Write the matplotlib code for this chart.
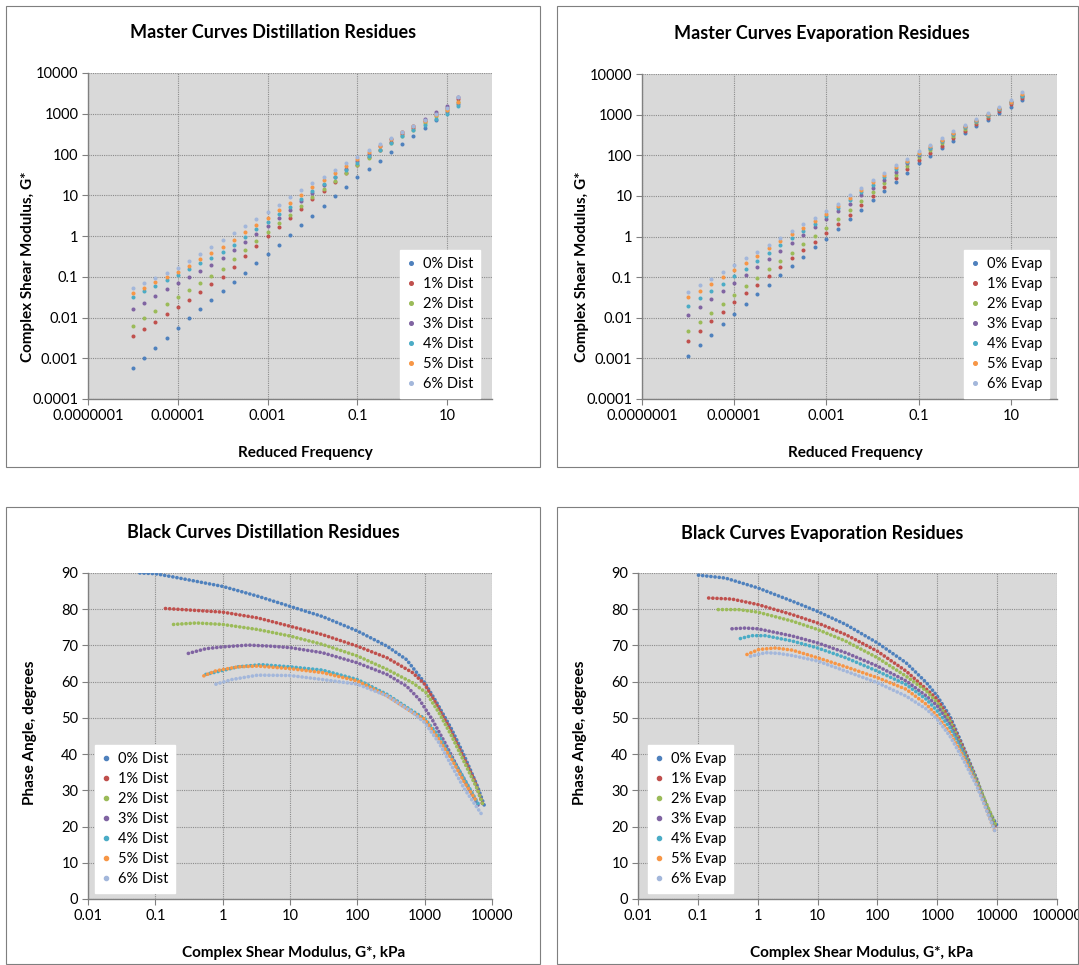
import numpy as np
import matplotlib
matplotlib.use("Agg")
import matplotlib.pyplot as plt
from matplotlib.lines import Line2D
from matplotlib.patches import Rectangle

plt.rcParams['font.family'] = ['Lato', 'DejaVu Sans']

colors = ['#4F81BD', '#C0504D', '#9BBB59', '#8064A2', '#4BACC6', '#F79646', '#A3B7DB']
pcts = ['0%', '1%', '2%', '3%', '4%', '5%', '6%']

# master curves: log10 reduced frequency (shared) and log10 G* per residue level
log_freq = [-6.0, -5.75, -5.5, -5.25, -5.0, -4.75, -4.5, -4.25, -4.0, -3.75,
            -3.5, -3.25, -3.0, -2.75, -2.5, -2.25, -2.0, -1.75, -1.5, -1.25,
            -1.0, -0.75, -0.5, -0.25, 0.0, 0.25, 0.5, 0.75, 1.0, 1.25]

dist_master = [
    [-3.25, -3.0, -2.75, -2.5, -2.25, -2.02, -1.8, -1.57, -1.35, -1.12, -0.9, -0.67, -0.45, -0.21, 0.03,
     0.26, 0.5, 0.74, 0.97, 1.21, 1.45, 1.65, 1.85, 2.05, 2.25, 2.45, 2.65, 2.85, 3.05, 3.25],
    [-2.45, -2.27, -2.1, -1.92, -1.75, -1.56, -1.38, -1.19, -1.0, -0.75, -0.5, -0.25, 0.0, 0.22, 0.45,
     0.67, 0.9, 1.11, 1.32, 1.54, 1.75, 1.94, 2.12, 2.31, 2.5, 2.66, 2.82, 2.99, 3.15, 3.35],
    [-2.2, -2.02, -1.85, -1.67, -1.5, -1.32, -1.15, -0.97, -0.8, -0.57, -0.35, -0.12, 0.1, 0.31, 0.52,
     0.74, 0.95, 1.15, 1.35, 1.55, 1.75, 1.92, 2.1, 2.27, 2.45, 2.61, 2.77, 2.94, 3.1, 3.3],
    [-1.8, -1.64, -1.47, -1.31, -1.15, -1.0, -0.85, -0.7, -0.55, -0.35, -0.15, 0.05, 0.25, 0.45, 0.65,
     0.85, 1.05, 1.25, 1.45, 1.65, 1.85, 2.02, 2.2, 2.37, 2.55, 2.71, 2.87, 3.04, 3.2, 3.4],
    [-1.5, -1.36, -1.22, -1.09, -0.95, -0.81, -0.67, -0.54, -0.4, -0.21, -0.02, 0.16, 0.35, 0.54, 0.72,
     0.91, 1.1, 1.27, 1.45, 1.62, 1.8, 1.96, 2.12, 2.29, 2.45, 2.59, 2.72, 2.86, 3.0, 3.2],
    [-1.4, -1.27, -1.14, -1.01, -0.88, -0.73, -0.57, -0.42, -0.27, -0.09, 0.09, 0.27, 0.45, 0.64, 0.82,
     1.01, 1.2, 1.37, 1.55, 1.72, 1.9, 2.06, 2.22, 2.39, 2.55, 2.69, 2.82, 2.96, 3.1, 3.3],
    [-1.28, -1.15, -1.03, -0.9, -0.78, -0.61, -0.44, -0.27, -0.1, 0.07, 0.25, 0.42, 0.6, 0.77, 0.95,
     1.12, 1.3, 1.46, 1.62, 1.79, 1.95, 2.1, 2.25, 2.4, 2.55, 2.7, 2.85, 3.0, 3.15, 3.4],
]

evap_master = [
    [-2.93, -2.67, -2.42, -2.16, -1.9, -1.66, -1.42, -1.19, -0.95, -0.72, -0.5, -0.27, -0.05, 0.19, 0.43,
     0.66, 0.9, 1.12, 1.35, 1.57, 1.8, 1.99, 2.17, 2.36, 2.55, 2.71, 2.87, 3.04, 3.2, 3.35],
    [-2.56, -2.33, -2.09, -1.86, -1.62, -1.4, -1.19, -0.97, -0.75, -0.54, -0.34, -0.13, 0.08, 0.31, 0.54,
     0.77, 1.0, 1.22, 1.44, 1.66, 1.88, 2.06, 2.24, 2.42, 2.6, 2.76, 2.92, 3.09, 3.25, 3.4],
    [-2.32, -2.1, -1.88, -1.65, -1.43, -1.22, -1.02, -0.81, -0.6, -0.4, -0.19, 0.01, 0.22, 0.44, 0.66,
     0.88, 1.1, 1.31, 1.52, 1.74, 1.95, 2.12, 2.3, 2.47, 2.65, 2.81, 2.97, 3.14, 3.3, 3.45],
    [-1.93, -1.74, -1.54, -1.35, -1.15, -0.95, -0.75, -0.55, -0.35, -0.16, 0.04, 0.23, 0.42, 0.62, 0.81,
     1.01, 1.2, 1.4, 1.6, 1.8, 2.0, 2.17, 2.35, 2.52, 2.7, 2.85, 3.0, 3.15, 3.3, 3.45],
    [-1.7, -1.52, -1.34, -1.16, -0.98, -0.79, -0.6, -0.41, -0.22, -0.04, 0.14, 0.32, 0.5, 0.7, 0.89,
     1.09, 1.28, 1.46, 1.65, 1.83, 2.02, 2.19, 2.36, 2.53, 2.7, 2.85, 3.0, 3.15, 3.3, 3.45],
    [-1.5, -1.33, -1.16, -0.99, -0.82, -0.64, -0.47, -0.29, -0.12, 0.05, 0.22, 0.39, 0.56, 0.76, 0.95,
     1.15, 1.35, 1.52, 1.7, 1.87, 2.05, 2.22, 2.38, 2.55, 2.72, 2.87, 3.02, 3.17, 3.32, 3.5],
    [-1.37, -1.2, -1.04, -0.87, -0.7, -0.53, -0.37, -0.2, -0.03, 0.13, 0.3, 0.46, 0.62, 0.81, 1.01,
     1.2, 1.4, 1.57, 1.75, 1.92, 2.1, 2.26, 2.42, 2.59, 2.75, 2.9, 3.05, 3.2, 3.35, 3.55],
]

# black curves: log10 G* (kPa) and phase angle (deg)
dist_black_logg = [
    [-1.23, -1.0, -0.73, 0.0, 0.52, 1.0, 1.48, 2.0, 2.44, 2.73, 3.0, 3.18, 3.4, 3.59, 3.78, 3.9],
    [-0.85, 0.0, 0.52, 1.0, 1.48, 2.0, 2.44, 2.82, 3.0, 3.16, 3.35, 3.54, 3.74, 3.86],
    [-0.73, -0.39, 0.0, 0.52, 1.0, 1.48, 2.0, 2.44, 2.82, 3.02, 3.21, 3.4, 3.59, 3.78, 3.87],
    [-0.51, -0.25, 0.0, 0.38, 0.71, 1.0, 1.48, 2.0, 2.44, 2.73, 2.92, 3.11, 3.3, 3.5, 3.69, 3.81],
    [-0.25, 0.23, 0.57, 1.0, 1.48, 2.0, 2.44, 2.82, 3.0, 3.21, 3.4, 3.59, 3.81],
    [-0.28, -0.1, 0.23, 0.52, 1.0, 1.48, 2.0, 2.44, 2.82, 3.0, 3.21, 3.4, 3.59, 3.78],
    [-0.1, 0.14, 0.52, 1.0, 1.48, 2.0, 2.44, 2.82, 3.0, 3.21, 3.4, 3.59, 3.86],
]
dist_black_phase = [
    [90.0, 89.8, 88.9, 86.3, 83.6, 80.8, 78.0, 74.0, 69.8, 66.1, 59.7, 54.2, 46.9, 39.5, 31.3, 25.1],
    [80.2, 79.2, 77.6, 75.3, 73.0, 69.8, 66.6, 62.5, 59.3, 54.2, 47.8, 40.5, 32.7, 26.2],
    [75.8, 76.2, 75.8, 74.4, 72.6, 70.3, 67.1, 63.4, 59.7, 57.0, 51.5, 45.0, 37.7, 30.4, 25.8],
    [67.8, 69.1, 69.6, 70.1, 69.8, 69.4, 68.0, 65.2, 62.0, 58.8, 55.1, 49.6, 43.2, 35.9, 29.4, 25.3],
    [62.0, 64.1, 64.7, 64.1, 63.2, 60.6, 56.5, 51.9, 49.8, 45.0, 39.1, 33.1, 25.8],
    [61.6, 63.0, 64.1, 64.3, 63.6, 62.5, 60.2, 56.1, 51.5, 49.6, 44.1, 38.6, 32.2, 26.7],
    [59.3, 60.6, 61.8, 61.7, 60.6, 59.3, 56.1, 51.5, 48.7, 43.2, 36.8, 30.4, 23.0],
]

evap_black_logg = [
    [-0.99, -0.54, 0.0, 0.58, 1.0, 1.47, 2.0, 2.48, 2.82, 3.0, 3.21, 3.43, 3.66, 3.82, 4.0],
    [-0.82, -0.43, 0.0, 0.58, 1.0, 1.47, 2.0, 2.48, 2.82, 3.0, 3.21, 3.43, 3.66, 3.82, 3.99],
    [-0.66, -0.32, 0.0, 0.58, 1.0, 1.47, 2.0, 2.48, 2.82, 3.0, 3.21, 3.43, 3.66, 3.99],
    [-0.43, -0.21, 0.0, 0.58, 1.0, 1.47, 2.0, 2.48, 2.82, 3.0, 3.21, 3.43, 3.66, 3.96],
    [-0.29, -0.1, 0.13, 0.58, 1.0, 1.47, 2.0, 2.48, 2.82, 3.0, 3.21, 3.43, 3.66, 3.96],
    [-0.18, 0.02, 0.3, 0.58, 1.0, 1.47, 2.0, 2.48, 2.82, 3.0, 3.21, 3.43, 3.66, 3.96],
    [-0.12, 0.13, 0.35, 0.58, 1.0, 1.47, 2.0, 2.48, 2.82, 3.0, 3.21, 3.43, 3.66, 3.96],
]
evap_black_phase = [
    [89.4, 88.6, 85.9, 82.2, 79.4, 75.8, 70.7, 65.2, 59.7, 56.0, 50.5, 42.2, 33.1, 25.7, 20.2],
    [83.1, 82.8, 81.3, 78.5, 76.2, 73.0, 68.4, 62.9, 57.9, 55.1, 49.6, 41.8, 32.6, 25.7, 19.3],
    [79.9, 79.9, 79.2, 76.7, 74.4, 71.2, 66.6, 61.5, 57.4, 54.2, 49.1, 41.3, 32.6, 19.8],
    [74.6, 74.8, 74.6, 72.6, 70.7, 68.0, 64.3, 60.2, 56.0, 53.3, 48.2, 40.9, 32.1, 19.3],
    [71.9, 72.7, 72.7, 71.2, 69.3, 66.6, 62.9, 59.2, 55.1, 51.9, 47.3, 40.4, 32.1, 19.3],
    [67.5, 68.9, 69.3, 68.7, 66.6, 64.1, 61.1, 57.9, 53.7, 50.5, 45.9, 39.5, 31.7, 18.8],
    [67.0, 68.0, 67.8, 67.2, 65.7, 62.9, 59.7, 56.0, 52.4, 49.6, 45.0, 38.6, 31.2, 18.8],
]

W, H = 1079, 965
fig = plt.figure(figsize=(W / 100, H / 100), dpi=100)
fig.patch.set_facecolor('white')


def box(x0, y0, x1, y1):
    return [x0 / W, 1 - y1 / H, (x1 - x0) / W, (y1 - y0) / H]


# chart area borders
for (x0, y0, x1, y1) in [(6, 6, 540, 467), (557, 6, 1078, 467), (6, 507, 540, 964), (557, 507, 1078, 964)]:
    fig.patches.append(Rectangle((x0 / W, 1 - y1 / H), (x1 - x0) / W, (y1 - y0) / H,
                                 transform=fig.transFigure, fill=False, edgecolor='#7F7F7F', lw=0.8))


def style_axes(ax):
    ax.set_facecolor('#D9D9D9')
    for s in ['top', 'right']:
        ax.spines[s].set_visible(False)
    for s in ['left', 'bottom']:
        ax.spines[s].set_color('#808080')
        ax.spines[s].set_linewidth(1.0)
    ax.grid(True, color='#8C8C8C', linestyle=(0, (1, 1)), linewidth=0.8)
    ax.set_axisbelow(True)
    ax.tick_params(direction='out', length=4, color='#808080', labelsize=10.5, pad=3)
    ax.minorticks_off()


def add_legend(ax, labels, x0, y0, marker_size):
    handles = [Line2D([], [], marker='o', linestyle='none', markersize=marker_size,
                      color=c) for c in colors]
    leg = ax.legend(handles, labels, loc='lower left', bbox_to_anchor=(x0 / W, 1 - y0 / H),
                    bbox_transform=fig.transFigure, frameon=True, fancybox=False,
                    fontsize=10.5, labelspacing=0.42, handlelength=0.6, handletextpad=0.5,
                    borderpad=0.45, borderaxespad=0)
    leg.get_frame().set_edgecolor('white')
    leg.get_frame().set_facecolor('white')
    leg.get_frame().set_alpha(1)


master_xt = [1e-7, 1e-5, 1e-3, 1e-1, 10]
master_xl = ['0.0000001', '0.00001', '0.001', '0.1', '10']
master_yt = [1e-4, 1e-3, 1e-2, 1e-1, 1, 10, 100, 1000, 10000]
master_yl = ['0.0001', '0.001', '0.01', '0.1', '1', '10', '100', '1000', '10000']

freq = np.power(10.0, log_freq)

# ---- master curves ----
for pos, data, title, tag, legpos, tx, xlx in [
        (box(88, 73, 492, 399), dist_master, 'Master Curves Distillation Residues', 'Dist',
         (400, 398), 273, 305),
        (box(642, 74, 1057, 399), evap_master, 'Master Curves Evaporation Residues', 'Evap',
         (964, 398), 822, 855)]:
    ax = fig.add_axes(pos)
    style_axes(ax)
    for i, ys in enumerate(data):
        ax.plot(freq, np.power(10.0, ys), 'o', color=colors[i], markersize=2.9, markeredgewidth=0)
    ax.set_xscale('log')
    ax.set_yscale('log')
    ax.set_xlim(1e-7, 100)
    ax.set_ylim(1e-4, 1e4)
    ax.set_xticks(master_xt, master_xl)
    ax.set_yticks(master_yt, master_yl)
    ax.minorticks_off()
    add_legend(ax, [p + ' ' + tag for p in pcts], legpos[0], legpos[1], 2.6)
    fig.text(tx / W, 1 - 33 / H, title, ha='center', va='center', fontsize=13, fontweight='bold')
    fig.text(xlx / W, 1 - 453 / H, 'Reduced Frequency', ha='center', va='center',
             fontsize=11, fontweight='bold')
    fig.text((pos[0] * W - 60) / W, 1 - 267 / H, 'Complex Shear Modulus, G*', rotation=90,
             ha='center', va='center', fontsize=11, fontweight='bold')

# ---- black curves ----
for pos, gx, ph, title, tag, legpos, tx, xlx, xmax, xt, xl in [
        (box(88, 573, 492, 899), dist_black_logg, dist_black_phase,
         'Black Curves Distillation Residues', 'Dist', (95, 893), 263, 294, 1e4,
         [0.01, 0.1, 1, 10, 100, 1000, 10000], ['0.01', '0.1', '1', '10', '100', '1000', '10000']),
        (box(638, 573, 1057, 899), evap_black_logg, evap_black_phase,
         'Black Curves Evaporation Residues', 'Evap', (648, 893), 822, 862, 1e5,
         [0.01, 0.1, 1, 10, 100, 1000, 10000, 100000],
         ['0.01', '0.1', '1', '10', '100', '1000', '10000', '100000'])]:
    ax = fig.add_axes(pos)
    style_axes(ax)
    for i in range(len(gx)):
        ax.plot(np.power(10.0, gx[i]), ph[i], color=colors[i], lw=2.6,
                linestyle=(0, (0.05, 1.1)), dash_capstyle='round')
    ax.set_xscale('log')
    ax.set_xlim(0.01, xmax)
    ax.set_ylim(0, 90)
    ax.set_xticks(xt, xl)
    ax.set_yticks(range(0, 91, 10))
    ax.minorticks_off()
    add_legend(ax, [p + ' ' + tag for p in pcts], legpos[0], legpos[1], 3.0)
    fig.text(tx / W, 1 - 533 / H, title, ha='center', va='center', fontsize=13, fontweight='bold')
    fig.text(xlx / W, 1 - 953 / H, 'Complex Shear Modulus, G*, kPa', ha='center', va='center',
             fontsize=11, fontweight='bold')
    fig.text((pos[0] * W - 58) / W, 1 - 733 / H, 'Phase Angle, degrees', rotation=90,
             ha='center', va='center', fontsize=11, fontweight='bold')

fig.savefig('out.png', dpi=100)
